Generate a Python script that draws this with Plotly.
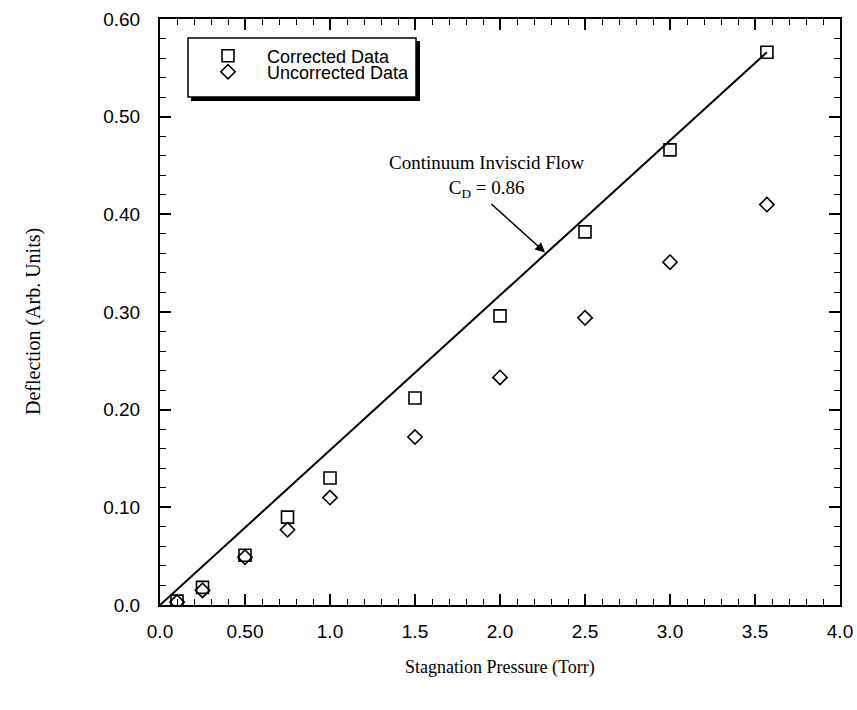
import plotly.graph_objects as go

# Data
pressure = [0.10, 0.25, 0.50, 0.75, 1.00, 1.50, 2.00, 2.50, 3.00, 3.57]
corrected = [0.004, 0.018, 0.051, 0.090, 0.130, 0.212, 0.296, 0.382, 0.466, 0.566]
uncorrected = [0.003, 0.015, 0.049, 0.077, 0.110, 0.172, 0.233, 0.294, 0.351, 0.410]

theory_x = [0.0, 3.57]
theory_y = [0.0, 0.566]

x_tickvals = [0.0, 0.5, 1.0, 1.5, 2.0, 2.5, 3.0, 3.5, 4.0]
x_ticktext = ["0.0", "0.50", "1.0", "1.5", "2.0", "2.5", "3.0", "3.5", "4.0"]
y_tickvals = [0.0, 0.1, 0.2, 0.3, 0.4, 0.5, 0.6]
y_ticktext = ["0.0", "0.10", "0.20", "0.30", "0.40", "0.50", "0.60"]

# Body margin is removed by post_script, so figure pixels == screen pixels.
W, H = 857, 710
L, T = 160, 19
R = W - 840
B = H - 605
pw, ph = W - L - R, H - T - B

def px(xs):
    return (xs - L) / pw

def py(ys):
    return 1 - (ys - T) / ph

sans = "Liberation Sans, Arial, Helvetica, sans-serif"
serif = "Liberation Serif, Times New Roman, Times, serif"

fig = go.Figure()

fig.add_trace(go.Scatter(
    x=theory_x, y=theory_y, mode="lines",
    line=dict(color="black", width=2), showlegend=False, hoverinfo="skip"))

fig.add_trace(go.Scatter(
    x=pressure, y=corrected, mode="markers", name="Corrected Data",
    marker=dict(symbol="square-open", size=12, color="black", line=dict(width=1.6)),
    legend="legend"))

fig.add_trace(go.Scatter(
    x=pressure, y=uncorrected, mode="markers", name="Uncorrected Data",
    marker=dict(symbol="diamond-open", size=11, color="black", line=dict(width=1.6)),
    legend="legend2"))

axis_common = dict(
    showline=True, linecolor="black", linewidth=2, mirror="allticks",
    ticks="inside", ticklen=11, tickwidth=1.5, tickcolor="black",
    showgrid=False, zeroline=False, automargin=False,
    tickfont=dict(family=sans, size=19, color="black"),
)

fig.update_xaxes(
    range=[0, 4.0], tickmode="array", tickvals=x_tickvals, ticktext=x_ticktext,
    minor=dict(ticks="inside", ticklen=6, tickwidth=1.2, tickcolor="black", dtick=0.1, showgrid=False),
    ticklabelstandoff=8,
    **axis_common)

fig.update_yaxes(
    range=[0, 0.6], tickmode="array", tickvals=y_tickvals, ticktext=y_ticktext,
    minor=dict(ticks="inside", ticklen=6, tickwidth=1.2, tickcolor="black", dtick=0.02, showgrid=False),
    ticklabelstandoff=14,
    **axis_common)

# Axis titles
fig.add_annotation(x=px(500), y=py(667), xref="paper", yref="paper",
                   text="Stagnation Pressure (Torr)", showarrow=False,
                   xanchor="center", yanchor="middle",
                   font=dict(family=serif, size=18, color="black"))
fig.add_annotation(x=px(33), y=py(322), xref="paper", yref="paper",
                   text="Deflection (Arb. Units)", showarrow=False, textangle=-90,
                   xanchor="center", yanchor="middle",
                   font=dict(family=serif, size=20, color="black"))

# Legend box with shadow
fig.add_shape(type="rect", xref="paper", yref="paper",
              x0=px(191), x1=px(420), y0=py(101), y1=py(41),
              fillcolor="black", line=dict(width=0), layer="below")
fig.add_shape(type="rect", xref="paper", yref="paper",
              x0=px(188), x1=px(416), y0=py(97), y1=py(38),
              fillcolor="white", line=dict(color="black", width=1.5), layer="below")

leg_font = dict(family=sans, size=18, color="black")
fig.update_layout(
    legend=dict(x=px(189), y=py(56), xanchor="left", yanchor="middle",
                bgcolor="rgba(0,0,0,0)", borderwidth=0, font=leg_font, itemwidth=68),
    legend2=dict(x=px(189), y=py(72), xanchor="left", yanchor="middle",
                 bgcolor="rgba(0,0,0,0)", borderwidth=0, font=leg_font, itemwidth=68),
)

# Annotation with arrow
fig.add_annotation(x=1.924, y=0.439, xref="x", yref="y",
                   text="Continuum Inviscid Flow<br>C<sub>D</sub> = 0.86",
                   showarrow=False, align="center", xanchor="center", yanchor="middle",
                   font=dict(family=serif, size=19, color="black"))
fig.add_annotation(x=2.265, y=0.361, ax=1.94, ay=0.412, xref="x", yref="y",
                   axref="x", ayref="y", text="", showarrow=True,
                   arrowhead=2, arrowsize=1.3, arrowwidth=1.5, arrowcolor="black")

fig.update_layout(
    width=W, height=H,
    margin=dict(l=L, r=R, t=T, b=B),
    paper_bgcolor="white", plot_bgcolor="white",
)

fig.write_html("out.html",
               config={"displayModeBar": False},
               post_script="document.body.style.margin='0px';document.body.style.overflow='hidden';")
